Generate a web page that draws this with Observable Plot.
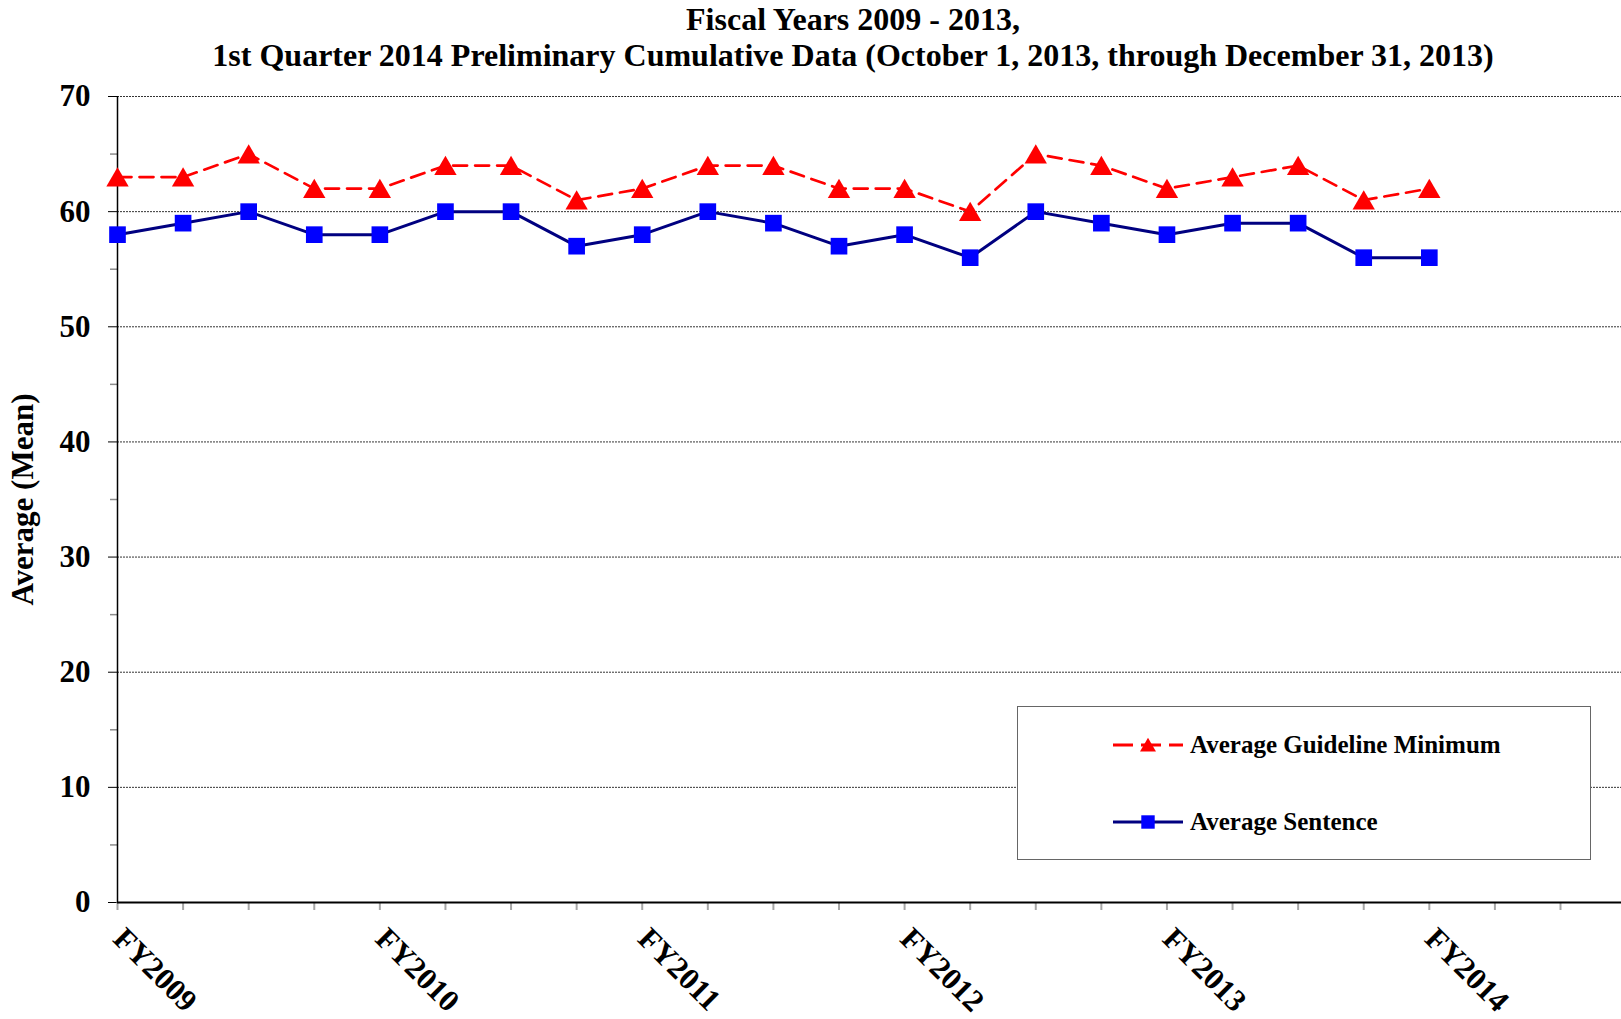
<!DOCTYPE html>
<html>
<head>
<meta charset="utf-8">
<script src="https://cdn.jsdelivr.net/npm/d3@7"></script>
<script src="https://cdn.jsdelivr.net/npm/@observablehq/plot@0.6"></script>
<style>
  html, body { margin: 0; padding: 0; background: #fff; overflow: hidden; }
  #wrap { position: relative; width: 1621px; height: 1019px; font-family: "Liberation Serif", "Times New Roman", serif; color: #000; }
  #title { position: absolute; left: 0; top: 1px; width: 1621px; box-sizing: border-box; padding-left: 85px; text-align: center; font-weight: bold; font-size: 32px; line-height: 36px; }
  #chart { position: absolute; left: 0; top: 80px; }
  #legend { position: absolute; left: 1017px; top: 706px; width: 574px; height: 154px; box-sizing: border-box; border: 1px solid #666; background: #fff; }
  .item { position: absolute; left: 95px; height: 30px; display: flex; align-items: center; }
  .item svg { display: block; }
  .item span { margin-left: 7px; font-weight: bold; font-size: 25px; white-space: nowrap; }
</style>
</head>
<body>
<div id="wrap">
  <div id="title"></div>
  <div id="chart"></div>
  <div id="legend"></div>
</div>
<script>
// ---- data ----
const titleLines = [
  "Fiscal Years 2009 - 2013,",
  "1st Quarter 2014 Preliminary Cumulative Data (October 1, 2013, through December 31, 2013)"
];
const yLabel = "Average (Mean)";
const quarterIndex = [0, 1, 2, 3, 4, 5, 6, 7, 8, 9, 10, 11, 12, 13, 14, 15, 16, 17, 18, 19, 20];
const guidelineMin = [63, 63, 65, 62, 62, 64, 64, 61, 62, 64, 64, 62, 62, 60, 65, 64, 62, 63, 64, 61, 62];
const avgSentence  = [58, 59, 60, 58, 58, 60, 60, 57, 58, 60, 59, 57, 58, 56, 60, 59, 58, 59, 59, 56, 56];
const fyLabels = ["FY2009", "FY2010", "FY2011", "FY2012", "FY2013", "FY2014"];
const fyLabelIndex = [0, 4, 8, 12, 16, 20];
const xTickIndex = [0, 1, 2, 3, 4, 5, 6, 7, 8, 9, 10, 11, 12, 13, 14, 15, 16, 17, 18, 19, 20, 21, 22];
const yMajorTicks = [0, 10, 20, 30, 40, 50, 60, 70];
const yMinorTicks = [5, 15, 25, 35, 45, 55, 65];
const seriesNames = ["Average Guideline Minimum", "Average Sentence"];

// ---- build ----
const font = '"Liberation Serif", "Times New Roman", serif';
document.getElementById("title").innerHTML = titleLines.map(t => `<div>${t}</div>`).join("");

const guideRows = quarterIndex.map((q, i) => ({q, v: guidelineMin[i]}));
const sentRows = quarterIndex.map((q, i) => ({q, v: avgSentence[i]}));

const RED = "#ff0000", NAVY = "#000080", BLUE = "#0000ff";
const DASH = "14,8";

const chart = Plot.plot({
  width: 1621,
  height: 939,
  marginLeft: 117,
  marginRight: 0,
  marginTop: 16,
  marginBottom: 117,
  style: {fontFamily: font, background: "#fff", color: "#000", overflow: "visible"},
  x: {domain: [0, 22.93], axis: null},
  y: {domain: [0, 70], axis: null},
  marks: [
    Plot.gridY(yMajorTicks.slice(1), {stroke: "#000", strokeOpacity: 0.8, strokeWidth: 1, strokeDasharray: "2,1"}),
    Plot.axisY(yMinorTicks, {tickSize: 7, tickFormat: () => "", stroke: "#8c8c8c", strokeWidth: 1.5, label: null}),
    Plot.axisY(yMajorTicks, {tickSize: 9, tickPadding: 18, fontSize: 31, fontWeight: "bold",
      label: yLabel, labelAnchor: "center", labelOffset: 107, labelArrow: "none"}),
    Plot.axisX(xTickIndex, {tickSize: 8, tickFormat: () => "", stroke: "#a6a6a6", strokeWidth: 2, label: null}),
    Plot.ruleX([0], {stroke: "#000", strokeWidth: 1.5}),
    Plot.ruleY([0], {stroke: "#000", strokeWidth: 2}),
    Plot.text(fyLabelIndex, {x: d => d, text: (d, i) => fyLabels[i], frameAnchor: "bottom",
      rotate: 45, textAnchor: "start", lineAnchor: "bottom", dx: -6, dy: 38,
      fontSize: 31, fontWeight: "bold", fill: "#000"}),
    Plot.line(guideRows, {x: "q", y: "v", stroke: RED, strokeWidth: 2.7, strokeDasharray: DASH}),
    Plot.line(sentRows, {x: "q", y: "v", stroke: NAVY, strokeWidth: 3}),
    Plot.dot(guideRows, {x: "q", y: "v", symbol: "triangle", r: 8.3, fill: RED, stroke: "none", dy: 3}),
    Plot.dot(sentRows, {x: "q", y: "v", symbol: "square", r: 9.4, fill: BLUE, stroke: "none"})
  ]
});
document.getElementById("chart").appendChild(chart);

// ---- legend ----
const legendItems = [
  {name: seriesNames[0], line: RED, dash: DASH, marker: d3.symbolTriangle, fill: RED, size: 110, dy: 2, top: 23},
  {name: seriesNames[1], line: NAVY, dash: null, marker: d3.symbolSquare, fill: BLUE, size: 180, dy: 0, top: 100}
];
const legend = document.getElementById("legend");
for (const it of legendItems) {
  const div = document.createElement("div");
  div.className = "item";
  div.style.top = it.top + "px";
  const path = d3.symbol(it.marker, it.size)();
  div.innerHTML = `<svg width="70" height="30">
    <line x1="0" x2="70" y1="15" y2="15" stroke="${it.line}" stroke-width="3" ${it.dash ? `stroke-dasharray="20,8"` : ""}/>
    <path d="${path}" transform="translate(35,${15 + it.dy})" fill="${it.fill}"/>
  </svg><span>${it.name}</span>`;
  legend.appendChild(div);
}
</script>
</body>
</html>
